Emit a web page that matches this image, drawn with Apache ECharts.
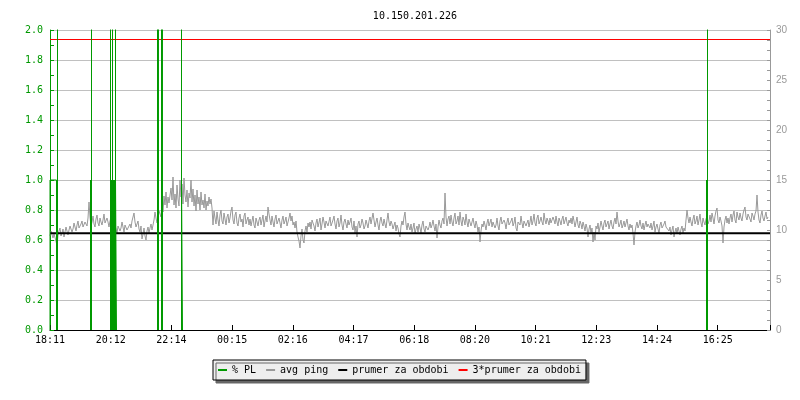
<!DOCTYPE html>
<html>
<head>
<meta charset="utf-8">
<script src="https://cdn.jsdelivr.net/npm/echarts@6/dist/echarts.min.js"></script>
<style>html,body{margin:0;padding:0;background:#fff}#c{width:800px;height:400px}</style>
</head>
<body>
<div id="c"></div>
<script>
const chartTitle = '10.150.201.226';
const tickLabels = ['18:11','20:12','22:14','00:15','02:16','04:17','06:18','08:20','10:21','12:23','14:24','16:25'];
const tickStepMin = 121.4;
const spanMin = 1440;
const pingStepMin = 2;
const legendNames = ['% PL', 'avg ping', 'prumer za obdobi', '3*prumer za obdobi'];

// avg ping (ms), one value per 2 minutes
const avgPing = [
9.4,9.9,10.1,9.2,9.6,9.8,8.9,8.4,9.5,9.9,10.2,9.4,9.7,10.1,9.3,9.8,10.3,9.9,9.5,10.0,
10.4,10.6,9.8,10.1,10.7,10.3,9.9,10.5,10.9,10.2,10.0,10.6,10.9,10.3,10.1,10.8,11.0,10.4,11.2,12.8,
11.3,10.4,10.8,11.4,10.6,10.3,11.1,11.5,10.7,10.4,11.2,10.8,10.5,11.0,11.6,10.7,10.5,11.2,10.8,10.3,
10.9,11.3,12.0,13.7,11.6,10.5,10.1,9.7,10.4,10.6,9.9,10.2,10.8,10.3,9.8,10.5,10.7,10.0,10.2,9.8,
10.6,10.2,10.9,11.3,11.7,10.8,10.3,10.6,10.9,10.1,9.8,10.4,9.1,9.6,10.2,9.4,9.0,9.9,10.3,9.7,
10.2,10.6,10.0,10.5,11.0,11.8,11.2,10.7,11.5,11.9,12.1,11.3,12.8,11.8,13.4,12.5,13.8,12.2,13.3,12.7,
12.8,14.2,13.0,15.3,12.5,13.6,12.2,14.5,13.1,12.4,15.0,13.3,14.6,12.6,15.2,13.5,12.8,14.0,12.3,13.7,
13.2,15.0,12.8,14.1,12.4,13.5,11.9,14.0,12.6,13.3,12.0,13.8,12.5,13.0,12.2,13.6,12.0,12.9,12.4,13.3,
12.6,13.1,12.2,10.5,11.9,11.2,10.6,11.8,11.0,10.4,11.5,12.0,10.9,10.6,11.7,11.1,10.5,11.3,11.6,10.7,
11.2,11.9,12.3,11.0,10.6,11.5,11.8,10.7,10.4,11.2,11.6,10.8,11.1,10.3,11.4,11.7,10.6,11.0,11.3,10.5,
11.1,10.4,10.9,11.4,10.5,10.2,11.2,10.8,10.4,11.0,11.3,10.5,10.7,11.5,10.3,10.9,11.4,10.8,12.3,11.6,
11.0,10.5,11.4,10.8,10.3,11.1,11.5,10.6,10.4,11.2,10.7,10.2,11.0,11.4,10.6,10.9,11.3,10.4,10.8,11.2,
11.7,10.9,11.4,10.5,10.8,10.2,10.9,9.8,9.3,8.9,8.2,9.4,10.1,9.0,8.7,9.9,10.4,9.8,10.7,10.3,
10.8,10.1,11.0,11.2,10.4,9.9,10.7,11.1,10.3,10.5,11.2,10.0,10.6,11.3,10.8,10.2,10.9,11.1,10.4,10.6,
11.3,10.4,10.2,11.0,11.4,10.6,10.1,10.9,11.2,10.3,10.7,11.5,10.5,10.0,10.8,11.1,10.6,10.2,11.0,10.5,
10.8,11.2,10.3,10.0,10.9,9.7,10.4,9.3,10.6,10.9,10.2,10.5,11.1,10.7,10.1,10.4,11.0,10.8,10.2,10.9,
11.3,10.6,10.4,11.7,11.0,10.3,10.8,11.2,10.5,10.0,10.9,11.3,10.7,10.4,11.1,10.6,10.2,11.0,11.7,10.8,
10.4,10.9,10.6,10.1,10.3,10.8,9.9,10.5,10.2,9.6,9.3,10.4,10.9,10.5,11.3,11.8,10.6,10.0,10.7,10.3,
10.0,10.6,9.8,10.2,10.7,9.6,10.1,10.4,9.8,10.6,10.2,9.7,10.5,10.9,10.1,9.8,10.4,10.6,10.0,10.3,
10.8,10.2,10.5,11.0,10.4,9.9,10.6,9.2,10.3,11.0,10.5,10.2,10.9,11.2,10.6,13.7,11.3,10.4,11.1,11.4,
10.6,11.5,10.8,10.4,11.2,11.7,10.6,10.9,11.4,10.5,11.8,10.9,10.4,11.3,11.0,10.5,11.6,10.8,10.3,11.1,
11.0,10.4,10.8,11.2,10.6,10.2,10.9,10.5,9.8,10.3,8.8,9.9,10.6,10.3,10.9,10.5,10.0,10.7,11.1,10.4,
10.6,11.1,10.3,10.8,11.0,10.2,10.5,11.2,10.4,10.0,10.9,11.3,10.6,10.4,11.0,10.7,10.1,10.8,11.2,10.5,
10.3,10.9,11.2,10.4,10.7,11.3,10.2,9.9,10.8,11.0,10.5,11.4,10.7,10.2,10.9,11.1,10.4,10.6,11.0,10.3,
10.8,11.4,10.5,10.9,11.6,10.7,10.4,11.2,11.5,10.6,10.9,11.3,10.8,10.5,11.7,11.0,10.6,11.2,10.9,10.5,
11.2,10.7,10.5,11.3,11.0,10.6,11.4,10.8,10.4,11.2,10.9,10.5,11.1,11.4,10.6,10.8,11.3,10.7,10.4,11.0,
10.7,11.2,10.6,11.4,10.9,10.3,10.8,11.3,10.5,10.2,10.9,10.6,10.1,10.8,10.4,9.9,10.6,10.2,9.3,10.1,
10.5,9.7,10.2,8.8,9.8,9.0,10.4,10.1,10.7,9.8,10.3,10.9,10.4,10.0,10.7,11.0,10.3,10.5,10.9,10.1,
10.6,11.0,10.4,10.1,10.8,11.2,10.6,11.8,10.9,10.3,10.6,11.0,10.2,10.5,10.9,10.3,10.7,11.1,10.4,10.0,
10.6,10.2,10.5,9.7,8.5,9.8,10.4,10.8,10.2,10.5,11.0,10.4,10.1,10.7,10.0,10.5,10.9,10.3,10.6,10.8,
10.2,10.7,10.0,10.4,10.9,9.8,10.3,10.6,10.1,9.7,10.5,10.8,10.2,10.0,10.6,10.9,10.3,10.1,10.5,9.9,
10.3,9.5,10.0,10.4,9.3,9.8,10.2,9.6,10.3,9.9,9.5,10.1,10.4,9.7,10.2,9.9,11.0,12.0,11.2,10.7,
11.3,10.8,10.4,11.1,11.5,10.6,10.9,11.4,10.5,11.0,11.6,10.7,10.3,11.2,10.8,10.5,11.1,11.4,10.6,10.9,
11.5,10.8,11.7,11.2,10.6,11.4,11.9,12.2,11.0,10.7,11.3,10.9,10.4,8.7,10.3,11.0,11.4,10.7,11.2,10.6,
11.2,11.6,10.8,11.5,11.9,11.0,10.7,11.8,11.3,11.0,11.7,11.2,10.9,11.6,12.0,12.3,11.3,11.0,11.6,11.8,
11.1,10.8,11.7,11.4,11.0,11.6,11.9,13.5,11.8,11.0,10.7,11.5,11.9,11.2,10.9,11.4,11.8,11.1,11.3,11.2
];

// packet loss pulses: [start minute, end minute, % PL]
const plPulses = [
  [0, 13, 1], [13, 15, 1],
  [81, 83, 1],
  [121, 123, 1], [123, 125, 1], [125, 127, 1], [127, 129, 1], [129, 131, 1], [131, 133, 1],
  [215, 217, 100],
  [223, 225, 100],
  [263, 265, 1],
  [1313, 1315, 1]
];
// single-sample packet loss spikes: [minute, % PL]
const plSpikes = [[15, 100], [83, 100], [121, 100], [125, 100], [131, 100], [263, 100], [1315, 100]];

const meanPing = 9.68;
const tripleMeanPing = 29.05;

const green = '#009900';
const mono = 'DejaVu Sans Mono';

const pingData = avgPing.map((v, i) => [i * pingStepMin, v]);
const plData = [];
plPulses.forEach(p => {
  plData.push([p[0], 0], [p[0], p[2]], [p[1], p[2]], [p[1], 0], [p[1], '-']);
});
plSpikes.forEach(s => {
  plData.push([s[0], 0], [s[0], s[1]], [s[0], '-']);
});

const chart = echarts.init(document.getElementById('c'), null, {renderer: 'canvas'});
chart.setOption({
  animation: false,
  backgroundColor: '#fff',
  title: {
    text: chartTitle, left: 410, top: 6, textAlign: 'center',
    textStyle: {fontFamily: mono, fontSize: 10, fontWeight: 'normal', color: '#000'}
  },
  legend: {
    data: legendNames, left: 213, top: 360, icon: 'rect', itemWidth: 9, itemHeight: 2, itemGap: 10,
    padding: [5, 5], backgroundColor: '#eeeeee', borderColor: '#000', borderWidth: 1,
    shadowColor: '#666', shadowOffsetX: 3, shadowOffsetY: 3, shadowBlur: 0.01,
    textStyle: {fontFamily: mono, fontSize: 10, color: '#000'}, selectedMode: false
  },
  grid: {left: 50, right: 30, top: 30, bottom: 70, containLabel: false},
  xAxis: {
    type: 'value', min: 0, max: spanMin, interval: tickStepMin,
    axisLine: {show: true, lineStyle: {color: '#000', width: 1}},
    axisTick: {show: true, inside: true, length: 5, lineStyle: {color: '#000'}},
    axisLabel: {
      margin: 5, fontFamily: mono, fontSize: 10, color: '#000',
      formatter: v => { const k = Math.round(v / tickStepMin); return (Math.abs(k * tickStepMin - v) < 0.5 && tickLabels[k]) ? tickLabels[k] : ''; }
    },
    splitLine: {show: false}
  },
  yAxis: [
    {
      type: 'value', position: 'left', min: 0, max: 2, interval: 0.2,
      axisLine: {show: true, lineStyle: {color: green}},
      axisTick: {show: true, inside: true, length: 4, lineStyle: {color: green}},
      minorTick: {show: true, splitNumber: 2, length: 4, lineStyle: {color: green}},
      axisLabel: {margin: 7, fontFamily: mono, fontSize: 10, color: green, formatter: v => v.toFixed(1)},
      splitLine: {show: true, lineStyle: {color: '#c0c0c0', width: 1}}
    },
    {
      type: 'value', position: 'right', min: 0, max: 30, interval: 5,
      axisLine: {show: true, lineStyle: {color: '#999'}},
      axisTick: {show: true, inside: true, length: 3, lineStyle: {color: '#999'}},
      minorTick: {show: true, splitNumber: 5, length: 3, lineStyle: {color: '#999'}},
      axisLabel: {margin: 6, fontFamily: 'Liberation Sans', fontSize: 10, color: '#999'},
      splitLine: {show: false}
    }
  ],
  series: [
    {name: 'avg ping', type: 'line', yAxisIndex: 1, data: pingData, symbol: 'none',
      lineStyle: {color: '#999999', width: 1}, itemStyle: {color: '#999999'}, z: 2},
    {name: 'prumer za obdobi', type: 'line', yAxisIndex: 1, data: [[0, meanPing], [spanMin, meanPing]], symbol: 'none',
      lineStyle: {color: '#000', width: 2}, itemStyle: {color: '#000'}, z: 3},
    {name: '3*prumer za obdobi', type: 'line', yAxisIndex: 1, data: [[0, tripleMeanPing], [spanMin, tripleMeanPing]], symbol: 'none',
      lineStyle: {color: '#ff0000', width: 1}, itemStyle: {color: '#ff0000'}, z: 4},
    {name: '% PL', type: 'line', yAxisIndex: 0, data: plData, symbol: 'none', connectNulls: false,
      lineStyle: {color: green, width: 1}, itemStyle: {color: green}, z: 5}
  ]
});
</script>
</body>
</html>
